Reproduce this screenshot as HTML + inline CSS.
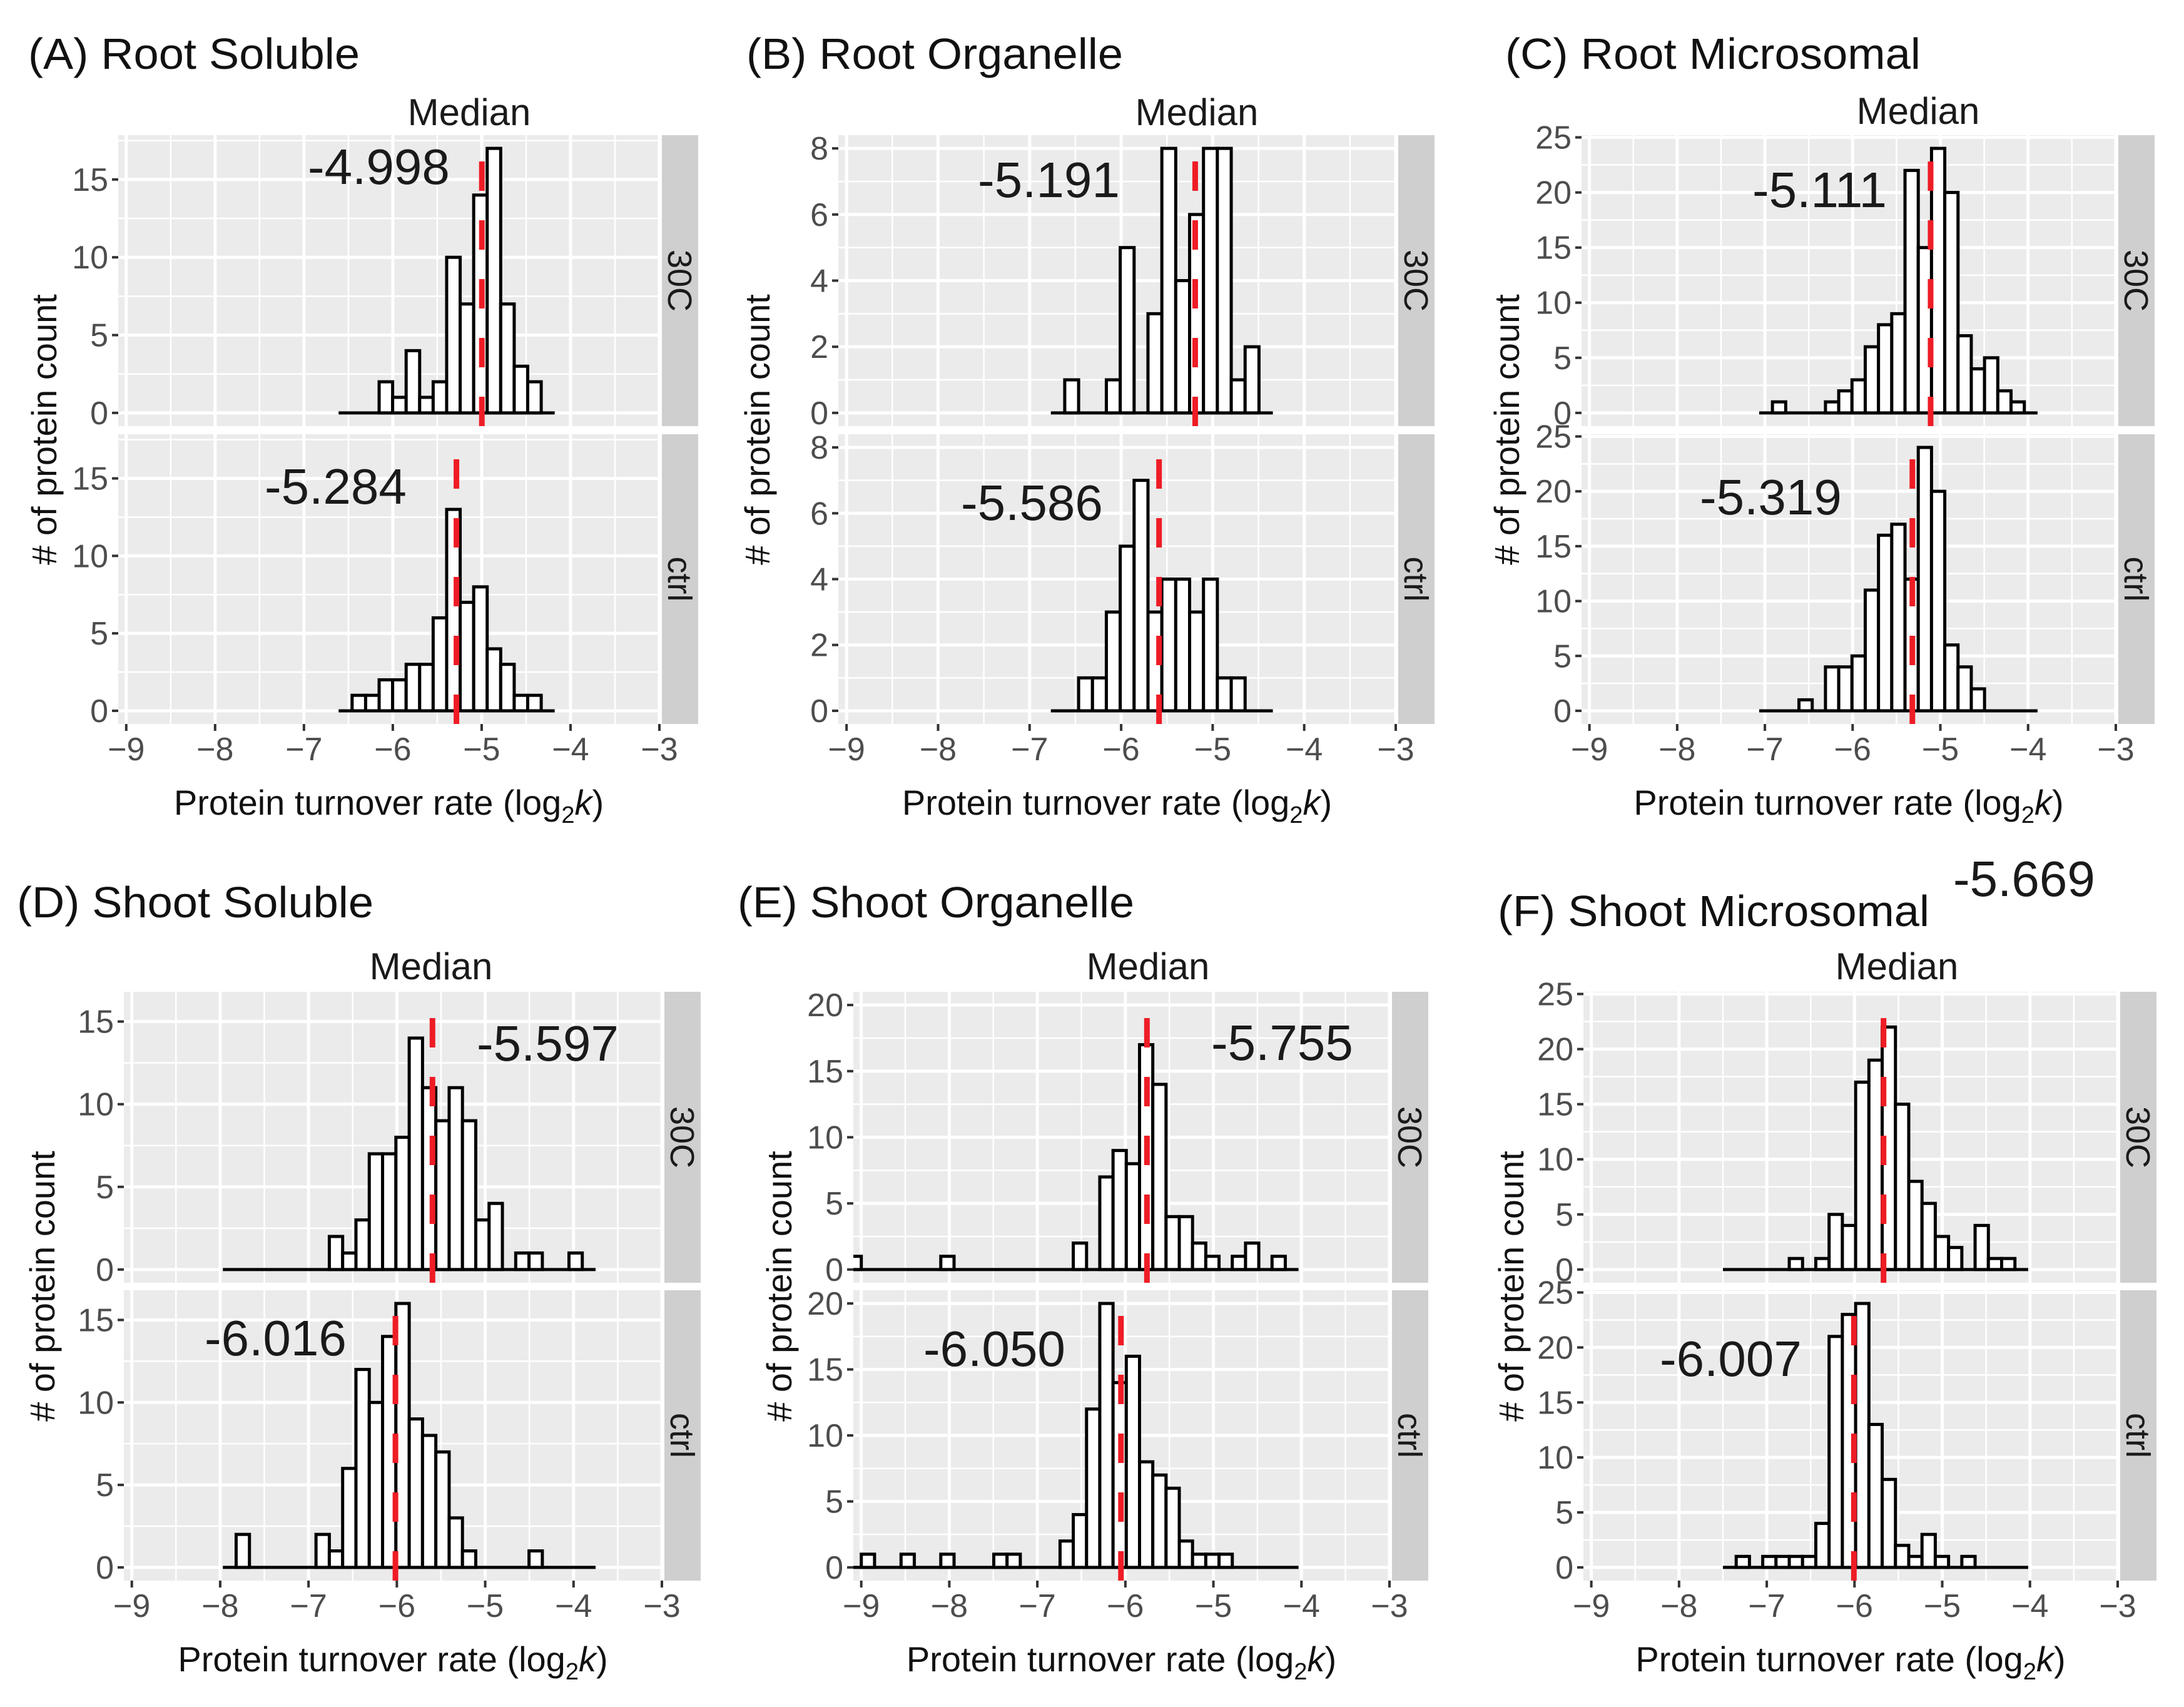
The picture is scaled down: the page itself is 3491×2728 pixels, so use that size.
<!DOCTYPE html>
<html><head><meta charset="utf-8"><style>
html,body{margin:0;padding:0;background:#fff}
svg{display:block}
text{font-family:"Liberation Sans",Arial,sans-serif}
</style></head><body>
<svg id="chart" xmlns="http://www.w3.org/2000/svg" width="3491" height="2728" viewBox="0 0 3491 2728">
<rect x="0" y="0" width="3491" height="2728" fill="#fff"/>
<text x="3122" y="1432" font-size="80" fill="#1a1a1a">-5.669</text>
</svg>
<script>
// ---- data (bin counts) ----
const conditions = ["30C", "ctrl"];
const A_start = -6.61, A_bw = 0.152;
const A_30C = [0,0,0,2,1,4,1,2,10,7,14,17,7,3,2,0];
const A_ctrl = [0,1,1,2,2,3,3,6,13,7,8,4,3,1,1,0];
const A_medians = [-4.998, -5.284];
const B_start = -6.768, B_bw = 0.1516;
const B_30C = [0,1,0,0,1,5,0,3,8,4,6,8,8,1,2,0];
const B_ctrl = [0,0,1,1,3,5,7,3,4,4,3,4,1,1,0,0];
const B_medians = [-5.191, -5.586];
const C_start = -7.065, C_bw = 0.1511;
const C_30C = [0,1,0,0,0,1,2,3,6,8,9,22,15,24,20,7,4,5,2,1,0];
const C_ctrl = [0,0,0,1,0,4,4,5,11,16,17,12,24,20,6,4,2,0,0,0,0];
const C_medians = [-5.111, -5.319];
const D_start = -7.97, D_bw = 0.1507;
const D_30C = [0,0,0,0,0,0,0,0,2,1,3,7,7,8,14,11,9,11,9,3,4,0,1,1,0,0,1,0];
const D_ctrl = [0,2,0,0,0,0,0,2,1,6,12,10,14,16,9,8,7,3,1,0,0,0,0,1,0,0,0,0];
const D_medians = [-5.597, -6.016];
const E_start = -9.15, E_bw = 0.1505;
const E_30C = [1,0,0,0,0,0,0,1,0,0,0,0,0,0,0,0,0,2,0,7,9,8,17,14,4,4,2,1,0,1,2,0,1,0];
const E_ctrl = [0,1,0,0,1,0,0,1,0,0,0,1,1,0,0,0,2,4,12,20,14,16,8,7,6,2,1,1,1,0,0,0,0,0];
const E_medians = [-5.755, -6.050];
const F_start = -7.5, F_bw = 0.1513;
const F_30C = [0,0,0,0,0,1,0,1,5,4,17,19,22,15,8,6,3,2,0,4,1,1,0];
const F_ctrl = [0,1,0,1,1,1,1,4,21,23,24,13,8,2,1,3,1,0,1,0,0,0,0];
const F_medians = [-5.669, -6.007];
const xTickValues = [-9,-8,-7,-6,-5,-4,-3];
const xTickLabels = ["\u22129","\u22128","\u22127","\u22126","\u22125","\u22124","\u22123"];
const panelTitles = ["(A) Root Soluble","(B) Root Organelle","(C) Root Microsomal","(D) Shoot Soluble","(E) Shoot Organelle","(F) Shoot Microsomal"];
const yStepA = 5, yStepB = 2, yStepC = 5, yStepD = 5, yStepE = 5, yStepF = 5;

// ---- layout ----
const NS = "http://www.w3.org/2000/svg";
const svg = document.getElementById("chart");
const XMIN = -9.09, XMAX = -3.0;
const topF = [[216,681],[694,1157]], botF = [[1585,2050],[2062,2526]];
const panels = [
 {id:"a", start:A_start, bw:A_bw, series:[A_30C,A_ctrl], med:A_medians, step:yStepA, left:189, right:1054, facets:topF, yT:70, tX:45, tW:530, tY:110, mX:750, mY:200, ann:[[492,294],[423,805]], show:[true,true]},
 {id:"b", start:B_start, bw:B_bw, series:[B_30C,B_ctrl], med:B_medians, step:yStepB, left:1340, right:2231, facets:topF, yT:1210, tX:1193, tW:602, tY:110, mX:1913, mY:200, ann:[[1563,315],[1536,831]], show:[true,true]},
 {id:"c", start:C_start, bw:C_bw, series:[C_30C,C_ctrl], med:C_medians, step:yStepC, left:2528, right:3382, facets:topF, yT:2408, tX:2406, tW:664, tY:110, mX:3066, mY:198, ann:[[2801,331],[2717,822]], show:[true,true]},
 {id:"d", start:D_start, bw:D_bw, series:[D_30C,D_ctrl], med:D_medians, step:yStepD, left:198, right:1058, facets:botF, yT:67, tX:27, tW:570, tY:1466, mX:689, mY:1565, ann:[[762,1695],[327,2166]], show:[true,true]},
 {id:"e", start:E_start, bw:E_bw, series:[E_30C,E_ctrl], med:E_medians, step:yStepE, left:1364, right:2221, facets:botF, yT:1245, tX:1179, tW:634, tY:1466, mX:1835, mY:1565, ann:[[1936,1694],[1476,2183]], show:[true,true]},
 {id:"f", start:F_start, bw:F_bw, series:[F_30C,F_ctrl], med:F_medians, step:yStepF, left:2531, right:3385, facets:botF, yT:2415, tX:2394, tW:690, tY:1480, mX:3032, mY:1565, ann:[[0,0],[2653,2199]], show:[false,true]}
];
function mk(tag, attrs, parent){
  const e = document.createElementNS(NS, tag);
  for (const k in attrs) e.setAttribute(k, attrs[k]);
  (parent||svg).appendChild(e);
  return e;
}
panels.forEach((p, pi) => {
  const g = mk("g", {});
  
  
  const unit = (p.right - p.left) / (XMAX - XMIN);
  const xs = v => p.left + (v - XMIN) * unit;
  const ymax = Math.max(...p.series[0], ...p.series[1]);
  const t = mk("text", {x:p.tX, y:p.tY, "font-size":70, fill:"#111", textLength:p.tW, lengthAdjust:"spacingAndGlyphs"}, g);
  t.textContent = panelTitles[pi];
  
  
  const mt = mk("text", {x:p.mX, y:p.mY, "font-size":60, fill:"#1a1a1a", "text-anchor":"middle"}, g);
  mt.textContent = "Median";
  
  
  p.facets.forEach((fb, fi) => {
    const top = fb[0], bot = fb[1], h = bot - top;
    const ys = c => bot - (c + 0.05*ymax) / (1.1*ymax) * h;
    const fg = mk("g", {}, g);
    
    
    const bg = mk("rect", {x:p.left, y:top, width:p.right-p.left, height:h, fill:"#ebebeb"}, fg);
    
    
    const cid = "clip-" + p.id + fi;
    const cp = mk("clipPath", {id:cid}, fg);
    mk("rect", {x:p.left, y:top, width:p.right-p.left, height:h}, cp);
    for (let v = -8.5; v < -3; v += 1) mk("line", {x1:xs(v), x2:xs(v), y1:top, y2:bot, stroke:"#fff", "stroke-width":2.5}, fg);
    for (let c = p.step/2; c < ymax*1.05; c += p.step) mk("line", {x1:p.left, x2:p.right, y1:ys(c), y2:ys(c), stroke:"#fff", "stroke-width":2.5}, fg);
    xTickValues.forEach(v => mk("line", {x1:xs(v), x2:xs(v), y1:top, y2:bot, stroke:"#fff", "stroke-width":5}, fg));
    for (let c = 0; c <= ymax*1.05; c += p.step) {
      mk("line", {x1:p.left, x2:p.right, y1:ys(c), y2:ys(c), stroke:"#fff", "stroke-width":5}, fg);
      mk("line", {x1:p.left-10, x2:p.left, y1:ys(c), y2:ys(c), stroke:"#333", "stroke-width":4}, fg);
      const yl = mk("text", {x:p.left-16, y:ys(c)+18, "font-size":52, fill:"#4d4d4d", "text-anchor":"end"}, fg);
      yl.textContent = String(c);
      
      
    }
    const hg = mk("g", {"clip-path":"url(#"+cid+")"}, fg);
    
    
    const counts = p.series[fi];
    const n = counts.length;
    const base = mk("line", {x1:xs(p.start), x2:xs(p.start + n*p.bw), y1:ys(0), y2:ys(0), stroke:"#000", "stroke-width":5}, hg);
    
    
    counts.forEach((c, i) => {
      if (c <= 0) return;
      const x0 = xs(p.start + i*p.bw), x1 = xs(p.start + (i+1)*p.bw);
      const r = mk("rect", {x:x0, y:ys(c), width:x1-x0, height:ys(0)-ys(c), fill:"#fff", stroke:"#000", "stroke-width":5}, hg);
      
      
    });
    const ml = mk("line", {x1:xs(p.med[fi]), x2:xs(p.med[fi]), y1:bot, y2:top, stroke:"#ee1c25", "stroke-width":9, "stroke-dasharray":"47 47"}, fg);
    
    
    if (p.show[fi]) {
      const at = mk("text", {x:p.ann[fi][0], y:p.ann[fi][1], "font-size":80, fill:"#1a1a1a"}, fg);
      at.textContent = p.med[fi].toFixed(3);
      
      
    }
    const sr = mk("rect", {x:p.right+4, y:top, width:58, height:h, fill:"#cfcfcf"}, fg);
    
    
    const sx = p.right+33, sy = (top+bot)/2;
    const st = mk("text", {x:sx, y:sy, "font-size":54, fill:"#1a1a1a", "text-anchor":"middle", transform:"rotate(90 "+sx+" "+sy+")", dy:"19"}, fg);
    st.textContent = conditions[fi];
    
    
  });
  const bot = p.facets[1][1];
  xTickValues.forEach((v, i) => {
    mk("line", {x1:xs(v), x2:xs(v), y1:bot, y2:bot+11, stroke:"#333", "stroke-width":4}, g);
    const xl = mk("text", {x:xs(v), y:bot+58, "font-size":52, fill:"#4d4d4d", "text-anchor":"middle"}, g);
    xl.textContent = xTickLabels[i];
    
    
  });
  const xt = mk("text", {x:(p.left+p.right)/2, y:bot+145, "font-size":56, fill:"#111", "text-anchor":"middle"}, g);
  
  
  xt.appendChild(document.createTextNode("Protein turnover rate (log"));
  const sub = mk("tspan", {dy:13, "font-size":38}, xt); sub.textContent = "2";
  const kk = mk("tspan", {dy:-13, "font-style":"italic"}, xt); kk.textContent = "k";
  xt.appendChild(document.createTextNode(")"));
  const cy = (p.facets[0][0] + p.facets[1][1]) / 2;
  const yt = mk("text", {x:p.yT, y:cy, "font-size":56, fill:"#111", "text-anchor":"middle", transform:"rotate(-90 "+p.yT+" "+cy+")", dy:"20"}, g);
  yt.textContent = "# of protein count";
  
  
});
</script>
</body></html>
